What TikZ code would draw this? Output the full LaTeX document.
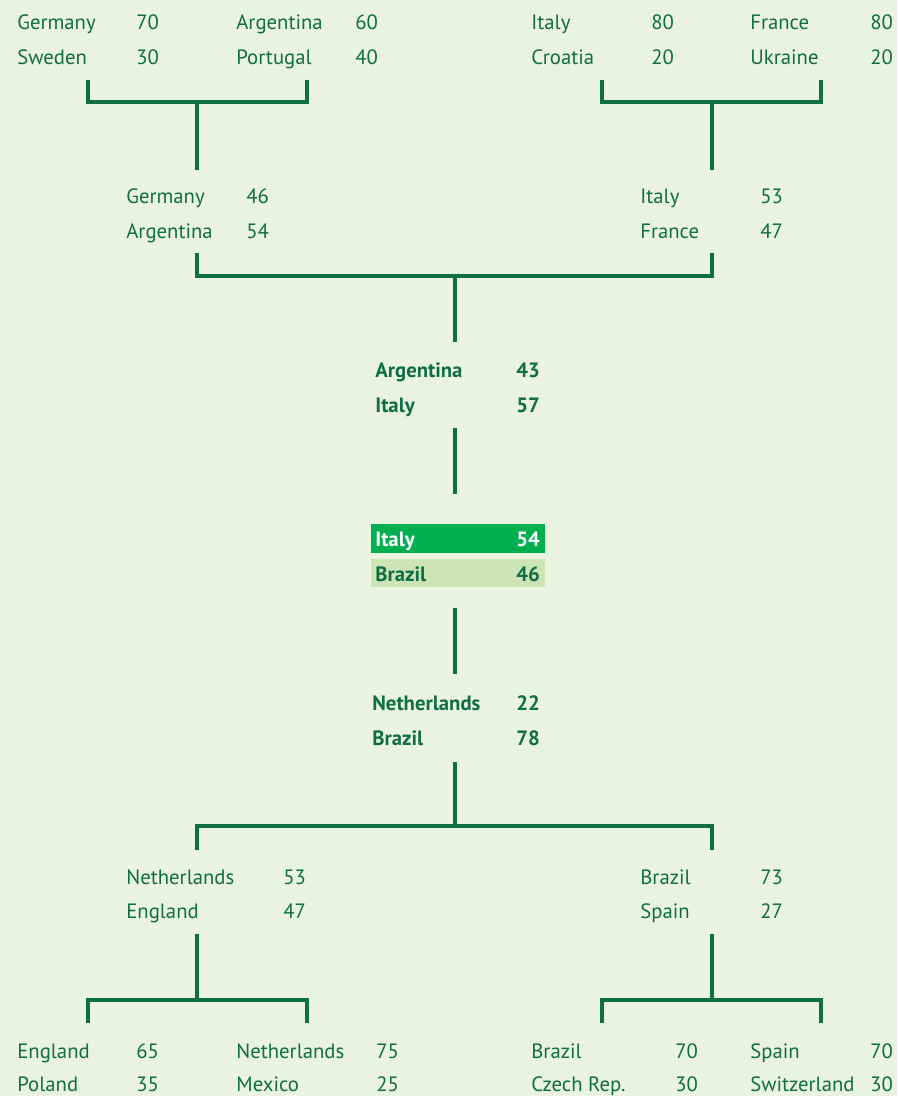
\documentclass[tikz,border=0pt]{standalone}
\usepackage{fontspec}
\setmainfont{PT Sans}
\usetikzlibrary{positioning}
\definecolor{bggreen}{HTML}{EAF2E0}
\definecolor{txtgreen}{HTML}{0F6E44}
\definecolor{wingreen}{HTML}{00AF50}
\definecolor{lossgreen}{HTML}{CDE5B6}

\begin{document}
\begin{tikzpicture}[x=0.02cm, y=-0.02cm, font=\fontsize{11.8}{13}\selectfont]
  \tikzstyle{team}=[anchor=base west,inner sep=0pt,text=txtgreen]
  \tikzstyle{winner}=[team,font=\fontsize{11.8}{13}\selectfont\bfseries]
  \tikzstyle{link}=[draw=txtgreen,line width=1.9pt]
  \tikzstyle{finalbox}=[inner sep=0pt,minimum width=3.48cm,minimum height=0.57cm]
  \fill[bggreen] (0,0) rectangle (897,1096);
  \useasboundingbox (0,0) rectangle (897,1096);
  % round of 16, top
  \node[team] (ger1) at (17,29) {Germany};   \node[team] (ger1s) at (136,29) {70};
  \node[team] (swe1) at (17,64) {Sweden};    \node[team] (swe1s) at (136,64) {30};
  \node[team] (arg1) at (236,29) {Argentina}; \node[team] (arg1s) at (355,29) {60};
  \node[team] (por1) at (236,64) {Portugal};  \node[team] (por1s) at (355,64) {40};
  \node[team] (ita1) at (531,29) {Italy};     \node[team] (ita1s) at (651,29) {80};
  \node[team] (cro1) at (531,64) {Croatia};   \node[team] (cro1s) at (651,64) {20};
  \node[team] (fra1) at (750,29) {France};    \node[team] (fra1s) at (870,29) {80};
  \node[team] (ukr1) at (750,64) {Ukraine};   \node[team] (ukr1s) at (870,64) {20};
  % quarter finals, top
  \node[team] (ger2) at (126,203) {Germany};   \node[team] (ger2s) at (246,203) {46};
  \node[team] (arg2) at (126,238) {Argentina}; \node[team] (arg2s) at (246,238) {54};
  \node[team] (ita2) at (640,203) {Italy};     \node[team] (ita2s) at (760,203) {53};
  \node[team] (fra2) at (640,238) {France};    \node[team] (fra2s) at (760,238) {47};
  % semi final, top
  \node[winner] (arg3) at (375,377) {Argentina}; \node[winner] (arg3s) at (516,377) {43};
  \node[winner] (ita3) at (375,412) {Italy};     \node[winner] (ita3s) at (516,412) {57};
  % final
  \node[finalbox,fill=wingreen] (fin1) at (458,538.5) {};
  \node[finalbox,fill=lossgreen] (fin2) at (458,573) {};
  \node[winner,text=white] (ita4) at (375,546) {Italy};   \node[winner,text=white] (ita4s) at (516,546) {54};
  \node[winner] (bra4) at (375,581) {Brazil};             \node[winner] (bra4s) at (516,581) {46};
  % semi final, bottom
  \node[winner] (ned3) at (372,710) {Netherlands}; \node[winner] (ned3s) at (516,710) {22};
  \node[winner] (bra3) at (372,745) {Brazil};      \node[winner] (bra3s) at (516,745) {78};
  % quarter finals, bottom
  \node[team] (ned2) at (126,884) {Netherlands}; \node[team] (ned2s) at (283,884) {53};
  \node[team] (eng2) at (126,918) {England};     \node[team] (eng2s) at (283,918) {47};
  \node[team] (bra2) at (640,884) {Brazil};      \node[team] (bra2s) at (760,884) {73};
  \node[team] (esp2) at (640,918) {Spain};       \node[team] (esp2s) at (760,918) {27};
  % round of 16, bottom
  \node[team] (eng1) at (17,1058) {England};      \node[team] (eng1s) at (136,1058) {65};
  \node[team] (pol1) at (17,1091) {Poland};       \node[team] (pol1s) at (136,1091) {35};
  \node[team] (ned1) at (236,1058) {Netherlands}; \node[team] (ned1s) at (376,1058) {75};
  \node[team] (mex1) at (236,1091) {Mexico};      \node[team] (mex1s) at (376,1091) {25};
  \node[team] (bra1) at (531,1058) {Brazil};      \node[team] (bra1s) at (675,1058) {70};
  \node[team] (cze1) at (531,1091) {Czech Rep.};  \node[team] (cze1s) at (675,1091) {30};
  \node[team] (esp1) at (750,1058) {Spain};       \node[team] (esp1s) at (870,1058) {70};
  \node[team] (sui1) at (750,1091) {Switzerland}; \node[team] (sui1s) at (870,1091) {30};
  % bracket end points
  \coordinate (q1a) at (88,80);   \coordinate (q1b) at (307,80);  \coordinate (q1) at (197,170);
  \coordinate (q2a) at (602,80);  \coordinate (q2b) at (821,80);  \coordinate (q2) at (712,170);
  \coordinate (h1a) at (197,253); \coordinate (h1b) at (712,253); \coordinate (h1) at (455,342);
  \coordinate (h1f) at (455,428); \coordinate (f1) at (455,494);
  \coordinate (f2) at (455,608);  \coordinate (h2f) at (455,674);
  \coordinate (h2) at (455,762);  \coordinate (h2a) at (197,850); \coordinate (h2b) at (712,850);
  \coordinate (q3) at (197,934);  \coordinate (q3a) at (88,1023); \coordinate (q3b) at (307,1023);
  \coordinate (q4) at (712,934);  \coordinate (q4a) at (602,1023); \coordinate (q4b) at (821,1023);
  % brackets
  \draw[link] (q1a) -- ++(0,22) -| (q1b);  \draw[link] (q1) -- (q1 |- 0,102);
  \draw[link] (q2a) -- ++(0,22) -| (q2b);  \draw[link] (q2) -- (q2 |- 0,102);
  \draw[link] (h1a) -- ++(0,23) -| (h1b);  \draw[link] (h1) -- (h1 |- 0,276);
  \draw[link] (h1f) -- (f1);
  \draw[link] (f2) -- (h2f);
  \draw[link] (h2a) -- ++(0,-24) -| (h2b); \draw[link] (h2) -- (h2 |- 0,826);
  \draw[link] (q3a) -- ++(0,-23) -| (q3b); \draw[link] (q3) -- (q3 |- 0,1000);
  \draw[link] (q4a) -- ++(0,-23) -| (q4b); \draw[link] (q4) -- (q4 |- 0,1000);
\end{tikzpicture}
\end{document}
